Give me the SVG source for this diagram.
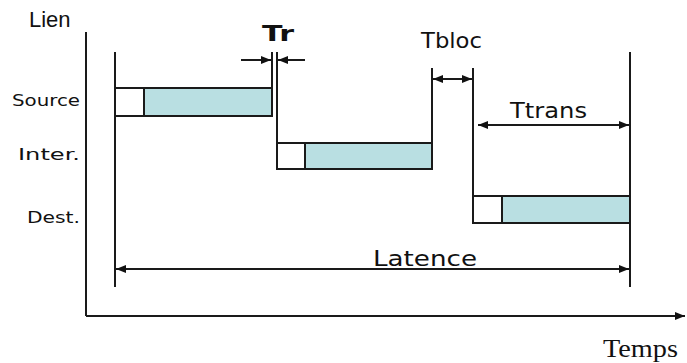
<svg xmlns="http://www.w3.org/2000/svg" width="687" height="363" viewBox="0 0 687 363">
  <defs>
    <marker id="head" viewBox="0 0 10 10" refX="10" refY="5" markerWidth="10" markerHeight="10" markerUnits="userSpaceOnUse" orient="auto-start-reverse">
      <path d="M0,1 L10,5 L0,9 Z" fill="#111"/>
    </marker>
  </defs>
  <style>
    .ln { stroke: #1a1a1a; stroke-width: 2; fill: none; }
    .arr { stroke: #1a1a1a; stroke-width: 2; fill: none; }
    .box { stroke: #1a1a1a; stroke-width: 2; fill: #ffffff; }
    .fill { stroke: #1a1a1a; stroke-width: 2; fill: #b9dfe2; }
    .lbl { font-family: "DejaVu Sans", "Noto Sans", sans-serif; fill: #111; }
    .ax { font-family: "Liberation Sans", Arial, sans-serif; fill: #111; }
    .tm { font-family: "Liberation Serif", "Times New Roman", serif; fill: #111; }
  </style>
  <rect width="687" height="363" fill="#ffffff"/>

  <!-- axes -->
  <g id="axes">
    <line class="ln" x1="86" y1="32" x2="86" y2="316"/>
    <line class="arr" x1="86" y1="316" x2="685" y2="316" marker-end="url(#head)"/>
    <text class="ax" x="29" y="27" font-size="22">Lien</text>
    <text class="tm" x="603" y="357" font-size="26" textLength="75" lengthAdjust="spacingAndGlyphs">Temps</text>
  </g>

  <!-- row labels -->
  <g id="row-labels">
    <text class="lbl" x="12" y="106" font-size="16" textLength="68" lengthAdjust="spacingAndGlyphs">Source</text>
    <text class="lbl" x="18" y="160" font-size="16" textLength="62" lengthAdjust="spacingAndGlyphs">Inter.</text>
    <text class="lbl" x="27" y="223" font-size="16" textLength="53" lengthAdjust="spacingAndGlyphs">Dest.</text>
  </g>

  <!-- time markers -->
  <g id="markers">
    <line class="ln" x1="115" y1="52" x2="115" y2="287"/>
    <line class="ln" x1="272" y1="52" x2="272" y2="116"/>
    <line class="ln" x1="277" y1="52" x2="277" y2="169"/>
    <line class="ln" x1="432" y1="68" x2="432" y2="169"/>
    <line class="ln" x1="473" y1="68" x2="473" y2="223"/>
    <line class="ln" x1="630" y1="52" x2="630" y2="287"/>
  </g>

  <!-- packet on each link -->
  <g id="source">
    <rect class="fill" x="144" y="88" width="128" height="28"/>
    <rect class="box" x="115" y="88" width="29" height="28"/>
  </g>
  <g id="inter">
    <rect class="fill" x="305" y="143" width="127" height="26"/>
    <rect class="box" x="277" y="143" width="28" height="26"/>
  </g>
  <g id="dest">
    <rect class="fill" x="502" y="196" width="128" height="27"/>
    <rect class="box" x="473" y="196" width="29" height="27"/>
  </g>

  <!-- dimension arrows -->
  <g id="connectors">
    <line class="arr" x1="241" y1="60" x2="271" y2="60" marker-end="url(#head)"/>
    <line class="arr" x1="305" y1="60" x2="278" y2="60" marker-end="url(#head)"/>
    <line class="arr" x1="433" y1="79" x2="472" y2="79" marker-start="url(#head)" marker-end="url(#head)"/>
    <line class="arr" x1="478" y1="125" x2="629" y2="125" marker-start="url(#head)" marker-end="url(#head)"/>
    <line class="arr" x1="116" y1="269" x2="629" y2="269" marker-start="url(#head)" marker-end="url(#head)"/>
  </g>

  <g id="dimension-labels">
    <text class="lbl" x="262" y="41" font-size="22" font-weight="bold" textLength="32" lengthAdjust="spacingAndGlyphs">Tr</text>
    <text class="lbl" x="421" y="48" font-size="22" textLength="61" lengthAdjust="spacingAndGlyphs">Tbloc</text>
    <text class="lbl" x="510" y="118" font-size="21" textLength="77" lengthAdjust="spacingAndGlyphs">Ttrans</text>
    <text class="lbl" x="373" y="266" font-size="22" textLength="104" lengthAdjust="spacingAndGlyphs">Latence</text>
  </g>
</svg>
